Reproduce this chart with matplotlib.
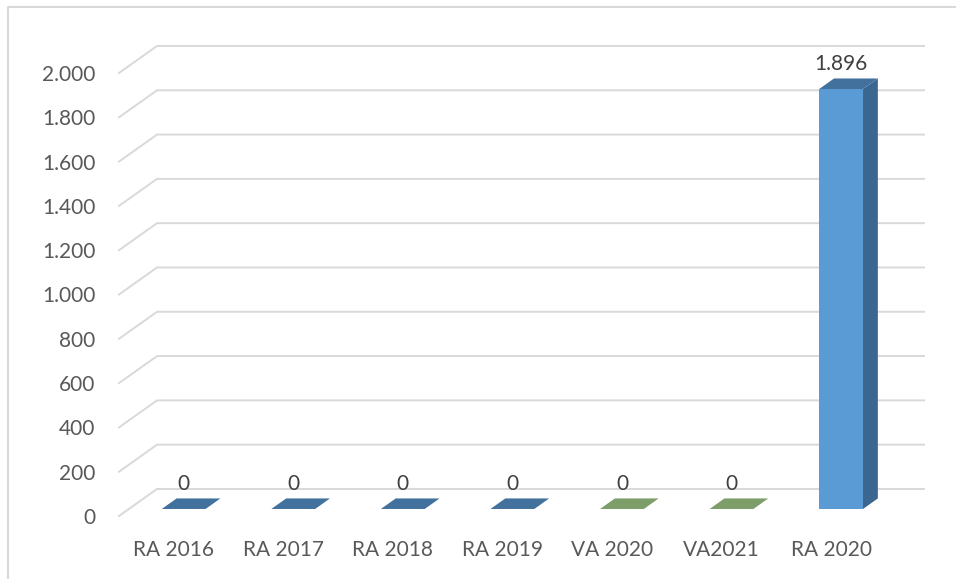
import matplotlib.pyplot as plt
from matplotlib.patches import Polygon
from matplotlib.lines import Line2D

categories = ["RA 2016", "RA 2017", "RA 2018", "RA 2019", "VA 2020", "VA2021", "RA 2020"]
values = [0, 0, 0, 0, 0, 0, 1896]
labels = ["0", "0", "0", "0", "0", "0", "1.896"]
front_colors = ["#5b9bd5"] * 4 + ["#8fb07a"] * 2 + ["#5b9bd5"]
top_colors = ["#41719c"] * 4 + ["#7d9e69"] * 2 + ["#41719c"]
side_colors = ["#3a6690"] * 4 + ["#6a8a58"] * 2 + ["#3a6690"]
yticks = list(range(0, 2001, 200))
ytick_labels = ["0", "200", "400", "600", "800", "1.000", "1.200", "1.400", "1.600", "1.800", "2.000"]

plt.rcParams['font.family'] = ['Lato', 'DejaVu Sans']

fig = plt.figure(figsize=(9.56, 5.79), dpi=100)
ax = fig.add_axes([119 / 956, 63 / 579, 767 / 956, 443 / 579])
ax.set_xlim(-0.5, 6.5)
ax.set_ylim(0, 2000)

# depth direction (oblique 3d look) in data units
DX, DY = 0.347, 122.0
t0, t1 = 0.26, 0.65
w = 0.4


def p(x, y, t):
    return (x + DX * t, y + DY * t)


grid_col = "#d9d9d9"
for v in yticks:
    xs, ys = zip(p(-0.5, v, 0), p(-0.5, v, 1), p(6.5, v, 1))
    ax.add_line(Line2D(xs, ys, color=grid_col, lw=1.4, clip_on=False, zorder=1))

for i, v in enumerate(values):
    l, r = i - w / 2, i + w / 2
    front = [p(l, 0, t0), p(r, 0, t0), p(r, v, t0), p(l, v, t0)]
    top = [p(l, v, t0), p(r, v, t0), p(r, v, t1), p(l, v, t1)]
    side = [p(r, 0, t0), p(r, 0, t1), p(r, v, t1), p(r, v, t0)]
    if v > 0:
        ax.add_patch(Polygon(side, closed=True, fc=side_colors[i], ec="none", clip_on=False, zorder=3))
        ax.add_patch(Polygon(front, closed=True, fc=front_colors[i], ec="none", clip_on=False, zorder=3))
    ax.add_patch(Polygon(top, closed=True, fc=top_colors[i], ec="none", clip_on=False, zorder=4))
    ax.annotate(labels[i], xy=p(i, v, t0), xytext=(0, 18), textcoords="offset points",
                ha="center", va="center", fontsize=15, color="#404040", annotation_clip=False)

ax.set_xticks(range(len(categories)))
ax.set_xticklabels(categories, fontsize=15, color="#595959")
ax.set_yticks(yticks)
ax.set_yticklabels(ytick_labels, fontsize=15, color="#595959")
ax.tick_params(length=0)
ax.tick_params(axis="y", pad=17)
ax.tick_params(axis="x", pad=17)
for s in ax.spines.values():
    s.set_visible(False)
ax.patch.set_visible(False)

# chart frame (only top and left visible in the crop)
fig.add_artist(Line2D([8 / 956, 8 / 956, 1.0], [0.0, 1 - 7 / 579, 1 - 7 / 579],
                      transform=fig.transFigure, color="#d9d9d9", lw=1.5))

fig.savefig("out.png", dpi=100)
